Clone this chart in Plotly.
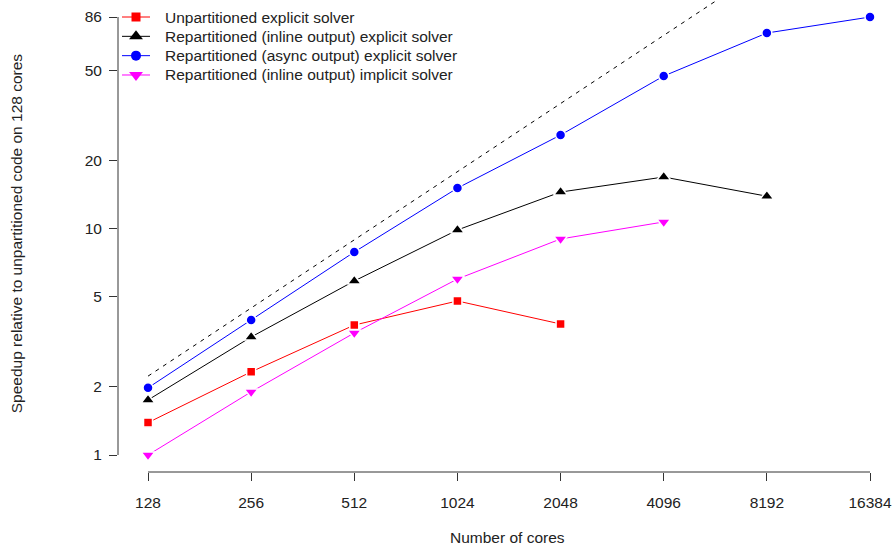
import plotly.graph_objects as go

cores = [128, 256, 512, 1024, 2048, 4096, 8192, 16384]
core_labels = ["128", "256", "512", "1024", "2048", "4096", "8192", "16384"]

unpart_explicit = [1.39, 2.33, 3.75, 4.79, 3.79]
repart_inline_explicit = [1.75, 3.32, 5.87, 9.86, 14.5, 16.9, 13.9]
repart_async_explicit = [1.98, 3.95, 7.88, 15.1, 25.9, 47.2, 73.1, 86.0]
repart_inline_implicit = [1.0, 1.90, 3.46, 5.99, 9.0, 10.7]
ideal_base = 2.23
ideal = [ideal_base * c / cores[0] for c in cores]

y_ticks = [1, 2, 5, 10, 20, 50, 86]

FONT = "Liberation Sans, Arial, Helvetica, sans-serif"
TXT = "#222222"
FS = 15.5

# plot area in pixels (for the hand-laid legend overlay)
PL, PW, PH = 118, 778, 472

fig = go.Figure()

fig.add_trace(go.Scatter(x=cores, y=ideal, mode="lines",
                         line=dict(color="black", width=1, dash="4px,5px"),
                         showlegend=False, hoverinfo="skip"))

series = [
    ("Unpartitioned explicit solver", unpart_explicit, "#ff0000", "square", 9),
    ("Repartitioned (inline output) explicit solver", repart_inline_explicit, "#000000", "triangle-up", 12),
    ("Repartitioned (async output) explicit solver", repart_async_explicit, "#0000ff", "circle", 10),
    ("Repartitioned (inline output) implicit solver", repart_inline_implicit, "#ff00ff", "triangle-down", 12),
]
annotations = []
for i, (name, vals, col, sym, sz) in enumerate(series):
    fig.add_trace(go.Scatter(
        x=cores[:len(vals)], y=vals, mode="lines+markers", name=name,
        line=dict(color=col, width=1),
        marker=dict(symbol=sym, size=sz, color=col, line=dict(color="white", width=1.5)),
        cliponaxis=False, showlegend=False,
    ))
    # legend entry drawn on a pixel-scaled overlay axis
    ry = 17 + 19.33 * i
    fig.add_trace(go.Scatter(
        x=[4, 32], y=[ry, ry], mode="lines", xaxis="x2", yaxis="y2",
        line=dict(color=col, width=1), showlegend=False, hoverinfo="skip"))
    fig.add_trace(go.Scatter(
        x=[18], y=[ry], mode="markers", xaxis="x2", yaxis="y2",
        marker=dict(symbol=sym, size=sz, color=col), showlegend=False,
        hoverinfo="skip", cliponaxis=False))
    annotations.append(dict(text=name, xref="x2", yref="y2", x=45, y=ry,
                            xanchor="left", yanchor="middle", showarrow=False,
                            font=dict(size=FS, color=TXT)))

annotations += [
    dict(text="Number of cores", xref="paper", yref="paper", x=0.5, y=-0.1398,
         xanchor="center", yanchor="middle", showarrow=False, font=dict(size=FS, color=TXT)),
    dict(text="Speedup relative to unpartitioned code on 128 cores", xref="paper", yref="paper",
         x=-0.131, y=0.506, xanchor="center", yanchor="middle", textangle=-90,
         showarrow=False, font=dict(size=FS, color=TXT)),
]

fig.update_layout(
    width=896, height=548,
    margin=dict(l=PL, r=0, t=0, b=548 - PH, autoexpand=False),
    paper_bgcolor="white", plot_bgcolor="white",
    font=dict(family=FONT, size=FS, color=TXT),
    showlegend=False,
    xaxis=dict(type="log", range=[2.0196, 4.2903], tickvals=cores, ticktext=core_labels,
               ticks="outside", ticklen=8, tickcolor="#333", showgrid=False, zeroline=False,
               showline=False, ticklabelstandoff=8, tickfont=dict(size=FS, color=TXT)),
    yaxis=dict(type="log", range=[-0.0751, 2.0097], tickvals=y_ticks,
               ticktext=[str(v) for v in y_ticks],
               ticks="outside", ticklen=8, tickcolor="#333", showgrid=False, zeroline=False,
               showline=False, ticklabelstandoff=4, tickfont=dict(size=FS, color=TXT)),
    xaxis2=dict(overlaying="x", range=[0, PW], visible=False, fixedrange=True),
    yaxis2=dict(overlaying="y", range=[PH, 0], visible=False, fixedrange=True),
    shapes=[
        dict(type="line", xref="x", yref="paper", x0=cores[0], x1=cores[-1], y0=0, y1=0,
             line=dict(color="#333", width=1)),
        dict(type="line", xref="paper", yref="y", x0=0, x1=0, y0=y_ticks[0], y1=y_ticks[-1],
             line=dict(color="#333", width=1)),
    ],
    annotations=annotations,
)

fig.write_html("out.html", config={"displayModeBar": False},
               post_script="document.body.style.margin='0px';")
